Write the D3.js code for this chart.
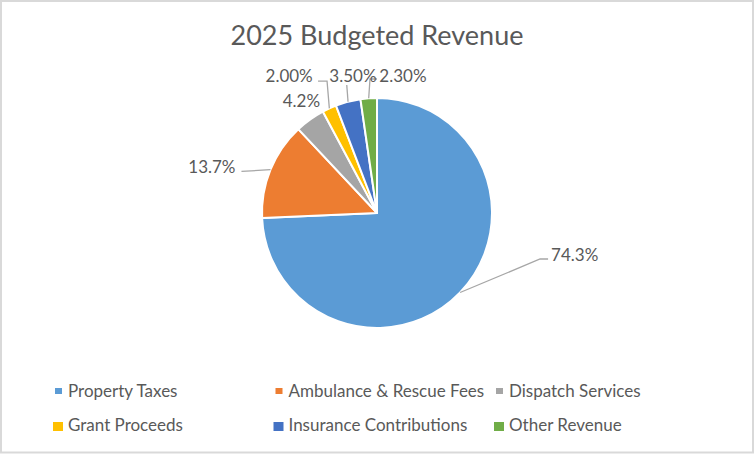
<!DOCTYPE html>
<html>
<head>
<meta charset="utf-8">
<script src="https://cdn.jsdelivr.net/npm/d3@7"></script>
<style>
  html, body { margin: 0; padding: 0; background: #fff; }
  text { font-family: Lato, "Open Sans", sans-serif; fill: #595959; }
</style>
</head>
<body>
<div id="chart"></div>
<script>
// Data
const categories = ["Property Taxes", "Ambulance & Rescue Fees", "Dispatch Services",
                    "Grant Proceeds", "Insurance Contributions", "Other Revenue"];
const values = [74.3, 13.7, 4.2, 2.0, 3.5, 2.3];
const labels = ["74.3%", "13.7%", "4.2%", "2.00%", "3.50%", "2.30%"];
const colors = ["#5B9BD5", "#ED7D31", "#A5A5A5", "#FFC000", "#4472C4", "#70AD47"];

const W = 754, H = 454;
const cx = 377, cy = 213, radius = 115;

// label placement, offsets from the slice edge point (Excel "best fit" look)
const labelLayout = [
  {line: [[80, -33.5], [88, -33.5]], text: [91, -32], anchor: "start"},
  {line: [[-29, 1.8]], text: [-35, 3], anchor: "end"},
  {line: [], text: [-8.6, -12.8], anchor: "middle"},
  {line: [[-2.3, -27.3], [-11.3, -27.3]], text: [-16.6, -26], anchor: "end"},
  {line: [[-1.3, -16.7]], text: [4.9, -19.4], anchor: "middle"},
  {line: [[1.3, -19.3], [8.3, -19.3]], text: [10.6, -16], anchor: "start"}
];

const svg = d3.select("#chart")
    .append("svg")
    .attr("width", W)
    .attr("height", H);

svg.append("rect")
    .attr("x", 1).attr("y", 1)
    .attr("width", W - 2).attr("height", H - 2.5)
    .attr("fill", "#fff")
    .attr("stroke", "#D9D9D9")
    .attr("stroke-width", 2);

// Title
svg.append("text")
    .attr("x", cx)
    .attr("y", 45)
    .attr("text-anchor", "middle")
    .style("font-size", "27px")
    .text("2025 Budgeted Revenue");

const color = d3.scaleOrdinal().domain(categories).range(colors);

const pie = d3.pie()
    .sort(null)
    .value(d => d.value);

const data = categories.map((c, i) => ({name: c, value: values[i], label: labels[i], i: i}));
const arcs = pie(data);

const arc = d3.arc().innerRadius(0).outerRadius(radius);

const g = svg.append("g")
    .attr("transform", `translate(${cx},${cy})`);

g.selectAll("path.slice")
    .data(arcs)
    .enter()
    .append("path")
    .attr("class", "slice")
    .attr("d", arc)
    .attr("fill", d => color(d.data.name))
    .attr("stroke", "#fff")
    .attr("stroke-width", 2)
    .attr("stroke-linejoin", "round");

// edge point of each slice at its mid-angle
function edge(d) {
  const a = (d.startAngle + d.endAngle) / 2;
  return [radius * Math.sin(a), -radius * Math.cos(a)];
}

// Leader lines
g.selectAll("polyline.leader")
    .data(arcs.filter(d => labelLayout[d.data.i].line.length))
    .enter()
    .append("polyline")
    .attr("class", "leader")
    .attr("fill", "none")
    .attr("stroke", "#A6A6A6")
    .attr("stroke-width", 1.3)
    .attr("points", d => {
      const e = edge(d);
      const pts = [e].concat(labelLayout[d.data.i].line.map(o => [e[0] + o[0], e[1] + o[1]]));
      return pts.map(p => p.join(",")).join(" ");
    });

// Data labels
g.selectAll("text.label")
    .data(arcs)
    .enter()
    .append("text")
    .attr("class", "label")
    .attr("x", d => edge(d)[0] + labelLayout[d.data.i].text[0])
    .attr("y", d => edge(d)[1] + labelLayout[d.data.i].text[1])
    .attr("text-anchor", d => labelLayout[d.data.i].anchor)
    .style("font-size", "17px")
    .text(d => d.data.label);

// Legend (3 columns x 2 rows), x = start of the text
const colX = d3.scaleOrdinal().domain([0, 1, 2]).range([68, 288.5, 509]);
const rowY = d3.scaleOrdinal().domain([0, 1]).range([397, 431]);

const legend = svg.selectAll("g.legend")
    .data(data)
    .enter()
    .append("g")
    .attr("class", "legend")
    .attr("transform", d => `translate(${colX(d.i % 3)},${rowY(Math.floor(d.i / 3))})`);

legend.append("rect")
    .attr("x", d => d.i < 3 ? -13 : -15)
    .attr("y", -9)
    .attr("width", d => d.i < 3 ? 7 : 10)
    .attr("height", d => d.i < 3 ? 6 : 9)
    .attr("fill", d => color(d.name));

legend.append("text")
    .attr("x", 0)
    .attr("y", 0)
    .style("font-size", "17px")
    .text(d => d.name);
</script>
</body>
</html>
